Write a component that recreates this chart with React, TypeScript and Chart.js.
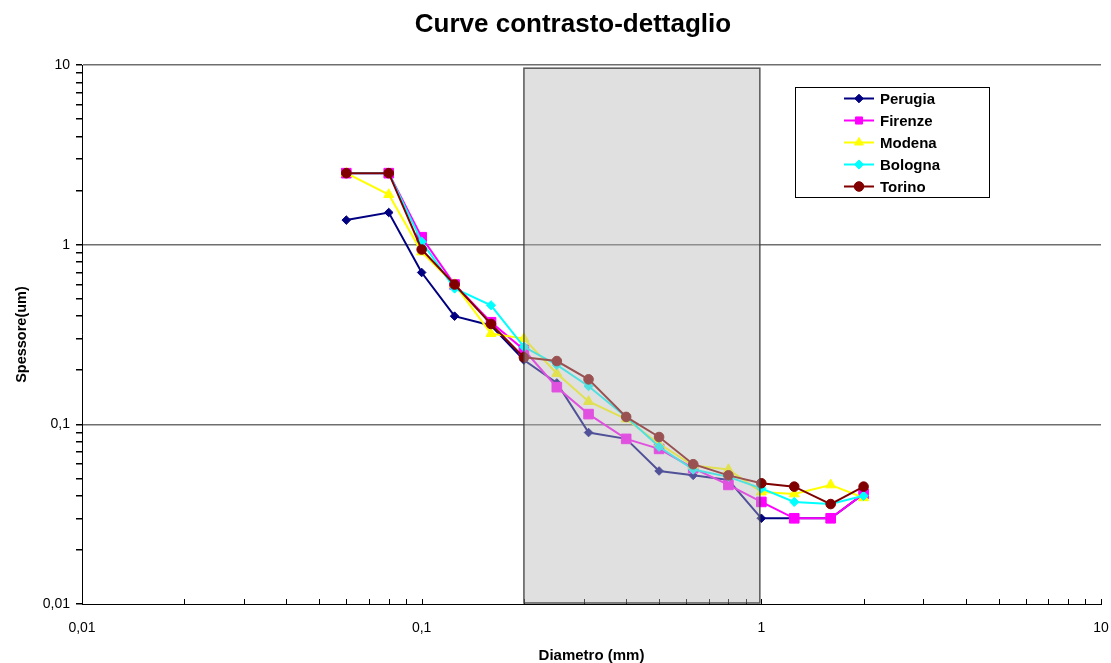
import React, { useEffect, useRef } from 'react';
import { Chart, registerables } from 'chart.js';

Chart.register(...registerables);

// ---- data ----
const diametro = [0.06, 0.08, 0.1, 0.125, 0.16, 0.2, 0.25, 0.31, 0.4, 0.5, 0.63, 0.8, 1, 1.25, 1.6, 2];
const perugia = [1.37, 1.51, 0.7, 0.4, 0.355, 0.228, 0.17, 0.09, 0.083, 0.055, 0.052, 0.049, 0.03, 0.03, 0.03, 0.041];
const firenze = [2.5, 2.5, 1.1, 0.6, 0.37, 0.26, 0.161, 0.114, 0.083, 0.073, 0.057, 0.046, 0.037, 0.03, 0.03, 0.041];
const modena = [2.5, 1.9, 0.91, 0.6, 0.32, 0.3, 0.192, 0.134, 0.107, 0.078, 0.059, 0.056, 0.042, 0.041, 0.046, 0.039];
const bologna = [2.5, 2.5, 1.04, 0.57, 0.46, 0.27, 0.214, 0.163, 0.11, 0.075, 0.056, 0.051, 0.044, 0.037, 0.036, 0.04];
const torino = [2.5, 2.5, 0.94, 0.6, 0.362, 0.236, 0.225, 0.178, 0.11, 0.085, 0.06, 0.052, 0.047, 0.045, 0.036, 0.045];

const seriesNames = ['Perugia', 'Firenze', 'Modena', 'Bologna', 'Torino'];
const seriesValues = [perugia, firenze, modena, bologna, torino];
const seriesColors = ['#000080', '#FF00FF', '#FFFF00', '#00FFFF', '#800000'];
const seriesMarkers = ['rectRot', 'rect', 'triangle', 'rectRot', 'circle'];
const seriesRadius = [4.3, 6.8, 5.8, 4.6, 4.8];

const decadeValues = [0.01, 0.1, 1, 10];
const decadeLabels = ['0,01', '0,1', '1', '10'];

const shadeX = [0.2, 0.99];
const shadeY = [0.01, 9.6];

const chartTitle = 'Curve contrasto-dettaglio';
const xTitle = 'Diametro (mm)';
const yTitle = 'Spessore(um)';

const FONT = '"Liberation Sans", Arial, Helvetica, sans-serif';

function logTicks() {
  const ticks: any[] = [];
  for (let e = -2; e <= 0; e++) {
    for (let m = 1; m <= 9; m++) {
      const v = parseFloat((m * Math.pow(10, e)).toPrecision(6));
      ticks.push({ value: v, major: m === 1 });
    }
  }
  ticks.push({ value: 10, major: true });
  return ticks;
}

function isDecade(v: number) {
  return decadeValues.some((d) => Math.abs(d - v) < 1e-9);
}

function labelFor(v: number) {
  const i = decadeValues.findIndex((d) => Math.abs(d - v) < 1e-9);
  return i >= 0 ? decadeLabels[i] : '';
}

function drawMarker(ctx: CanvasRenderingContext2D, style: string, x: number, y: number, r: number, color: string) {
  ctx.save();
  ctx.fillStyle = color;
  ctx.strokeStyle = color;
  ctx.lineWidth = 1;
  ctx.beginPath();
  if (style === 'rectRot') {
    ctx.moveTo(x - r, y);
    ctx.lineTo(x, y - r);
    ctx.lineTo(x + r, y);
    ctx.lineTo(x, y + r);
    ctx.closePath();
  } else if (style === 'rect') {
    const s = Math.SQRT1_2 * r;
    ctx.rect(x - s, y - s, 2 * s, 2 * s);
  } else if (style === 'triangle') {
    let rad = 0;
    ctx.moveTo(x + Math.sin(rad) * r, y - Math.cos(rad) * r);
    rad += (2 * Math.PI) / 3;
    ctx.lineTo(x + Math.sin(rad) * r, y - Math.cos(rad) * r);
    rad += (2 * Math.PI) / 3;
    ctx.lineTo(x + Math.sin(rad) * r, y - Math.cos(rad) * r);
    ctx.closePath();
  } else {
    ctx.arc(x, y, r, 0, Math.PI * 2);
  }
  ctx.fill();
  ctx.stroke();
  ctx.restore();
}

const overlayPlugin = {
  id: 'overlayPlugin',
  afterDatasetsDraw(chart: any) {
    const { ctx, chartArea } = chart;
    const xs = chart.scales.x;
    const ys = chart.scales.y;
    ctx.save();
    // inward ticks on x axis
    ctx.strokeStyle = '#000';
    ctx.lineWidth = 1;
    for (const t of xs.ticks) {
      const px = Math.round(xs.getPixelForValue(t.value)) + 0.5;
      ctx.beginPath();
      ctx.moveTo(px, chartArea.bottom);
      ctx.lineTo(px, chartArea.bottom - 5);
      ctx.stroke();
    }
    // shaded region
    const x0 = xs.getPixelForValue(shadeX[0]);
    const x1 = xs.getPixelForValue(shadeX[1]);
    const y0 = ys.getPixelForValue(shadeY[1]);
    const y1 = ys.getPixelForValue(shadeY[0]) - 1;
    ctx.fillStyle = 'rgba(185,185,185,0.44)';
    ctx.fillRect(x0, y0, x1 - x0, y1 - y0);
    ctx.strokeStyle = 'rgba(60,60,60,0.85)';
    ctx.lineWidth = 1.5;
    ctx.strokeRect(x0, y0, x1 - x0, y1 - y0);
    ctx.restore();
  },
  afterDraw(chart: any) {
    const { ctx } = chart;
    ctx.save();
    // title
    ctx.fillStyle = '#000';
    ctx.font = `bold 26px ${FONT}`;
    ctx.textAlign = 'center';
    ctx.textBaseline = 'alphabetic';
    ctx.fillText(chartTitle, 573, 32);

    // legend
    const bx = 795.5, by = 87.5, bw = 194, bh = 110;
    ctx.fillStyle = '#fff';
    ctx.fillRect(bx, by, bw, bh);
    ctx.strokeStyle = '#000';
    ctx.lineWidth = 1;
    ctx.strokeRect(bx, by, bw, bh);
    ctx.font = `bold 15px ${FONT}`;
    ctx.textAlign = 'left';
    ctx.textBaseline = 'middle';
    seriesNames.forEach((name, i) => {
      const yy = 98.5 + i * 22;
      ctx.strokeStyle = seriesColors[i];
      ctx.lineWidth = 2;
      ctx.beginPath();
      ctx.moveTo(844, yy);
      ctx.lineTo(874, yy);
      ctx.stroke();
      drawMarker(ctx, seriesMarkers[i], 859, yy, Math.min(seriesRadius[i], 5), seriesColors[i]);
      ctx.fillStyle = '#000';
      ctx.fillText(name, 880, yy + 1);
    });
    ctx.restore();
  },
};

export default function App() {
  const canvasRef = useRef<HTMLCanvasElement | null>(null);

  useEffect(() => {
    if (!canvasRef.current) return;
    const datasets = seriesNames.map((name, i) => ({
      label: name,
      data: diametro.map((d, k) => ({ x: d, y: seriesValues[i][k] })),
      showLine: true,
      borderColor: seriesColors[i],
      backgroundColor: seriesColors[i],
      borderWidth: 2,
      pointStyle: seriesMarkers[i],
      pointRadius: seriesRadius[i],
      pointBorderWidth: 1,
      pointBorderColor: seriesColors[i],
      pointBackgroundColor: seriesColors[i],
      order: seriesNames.length - 1 - i,
      tension: 0,
    }));

    const chart = new Chart(canvasRef.current, {
      type: 'scatter',
      data: { datasets } as any,
      plugins: [overlayPlugin],
      options: {
        animation: false,
        responsive: false,
        devicePixelRatio: 1,
        events: [],
        layout: { padding: { top: 65, right: 10, left: 0, bottom: 0 } },
        plugins: {
          legend: { display: false },
          title: { display: false },
          tooltip: { enabled: false },
        },
        scales: {
          x: {
            type: 'logarithmic',
            min: 0.01,
            max: 10,
            afterBuildTicks: (scale: any) => {
              scale.ticks = logTicks();
            },
            afterFit: (scale: any) => {
              scale.height = 59;
              scale.paddingRight = 0;
              scale.paddingLeft = 0;
            },
            ticks: {
              autoSkip: false,
              maxRotation: 0,
              padding: 16,
              color: '#000',
              font: { family: FONT, size: 14 },
              callback: (v: any) => labelFor(Number(v)),
            },
            grid: {
              display: true,
              drawTicks: false,
              color: 'rgba(0,0,0,0)',
            },
            border: { display: true, color: '#000', width: 1 },
            title: {
              display: true,
              text: xTitle,
              color: '#000',
              font: { family: FONT, size: 15, weight: 'bold', lineHeight: 1 },
              padding: { top: 0, bottom: 0 },
            },
          },
          y: {
            type: 'logarithmic',
            min: 0.01,
            max: 10,
            afterBuildTicks: (scale: any) => {
              scale.ticks = logTicks();
            },
            afterFit: (scale: any) => {
              scale.width = 82;
              scale.paddingTop = 0;
              scale.paddingBottom = 0;
            },
            ticks: {
              autoSkip: false,
              padding: 6,
              color: '#000',
              font: { family: FONT, size: 14 },
              callback: (v: any) => labelFor(Number(v)),
            },
            grid: {
              display: true,
              drawTicks: true,
              tickLength: 6,
              tickColor: '#000',
              lineWidth: 1.5,
              color: (ctx: any) => {
                const v = ctx.tick ? ctx.tick.value : 0;
                return isDecade(v) && v > 0.011 ? '#6e6e6e' : 'rgba(0,0,0,0)';
              },
            },
            border: { display: true, color: '#000', width: 1 },
            title: {
              display: true,
              text: yTitle,
              color: '#000',
              font: { family: FONT, size: 14.5, weight: 'bold', lineHeight: 1.2 },
              padding: { top: 13, bottom: 0 },
            },
          },
        },
      } as any,
    });
    return () => chart.destroy();
  }, []);

  return (
    <div style={{ position: 'fixed', left: 0, top: 0, width: 1111, height: 663, background: '#fff' }}>
      <canvas ref={canvasRef} width={1111} height={663} style={{ width: 1111, height: 663, display: 'block' }} />
    </div>
  );
}
